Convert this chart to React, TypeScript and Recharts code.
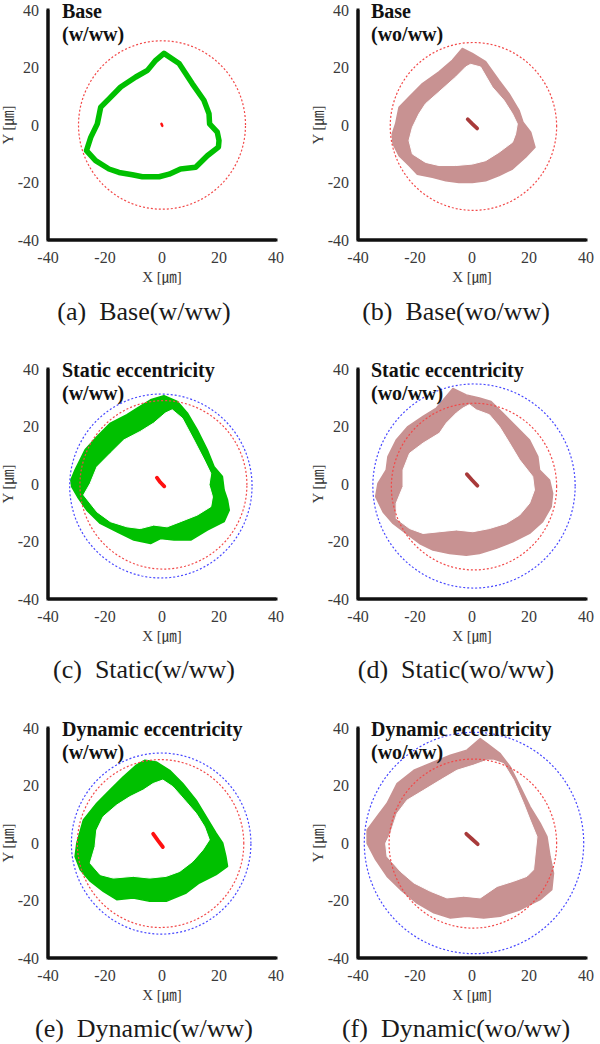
import React from 'react';
import { ScatterChart, Scatter, XAxis, YAxis, Label } from 'recharts';

type Pt = [number, number];

const axisTicks = [-40, -20, 0, 20, 40];
// L-shaped axis frame (y axis at x=-40, x axis at y=-40)
const axisFrame: Pt[] = [[-40, 40], [-40, -40], [40, -40]];

// (a) Base (w/ww): thin orbit
const baseWLoop: Pt[] = [
  [0.7, 24.9], [6.0, 21.4], [10.6, 14.4], [14.7, 8.6], [16.5, 3.9], [16.7, 0.4], [19.4, -2.5],
  [20.0, -5.4], [19.8, -7.7], [15.9, -10.7], [11.8, -14.7], [6.5, -15.3], [2.5, -17.1],
  [-1.0, -18.0], [-6.9, -18.0], [-10.4, -17.3], [-15.1, -16.5], [-18.6, -15.3], [-23.3, -12.4],
  [-26.5, -8.9], [-25.0, -4.3], [-22.7, 0.4], [-21.5, 6.2], [-18.6, 9.1], [-14.5, 13.2],
  [-9.2, 16.7], [-5.1, 19.0], [-2.2, 22.5],
];
const baseWCenter: Pt[] = [[-0.2, 0.4], [0.1, -0.3]];

// (b) Base (wo/ww)
const baseWoOuter: Pt[] = [
  [-3.4, 26.6], [0.1, 24.9], [4.8, 22.0], [9.5, 15.5], [13.0, 10.9], [16.5, 5.1], [17.9, 1.0],
  [20.6, -2.5], [22.1, -7.7], [18.8, -11.2], [14.2, -15.3], [9.5, -17.6], [4.8, -19.4],
  [0.1, -20.0], [-4.6, -20.0], [-9.2, -19.4], [-13.9, -18.2], [-19.2, -17.1], [-22.1, -14.1],
  [-25.6, -10.7], [-27.7, -6.6], [-28.0, -3.1], [-26.8, 0.4], [-25.6, 6.2], [-22.1, 9.7],
  [-17.4, 14.4], [-11.6, 18.5], [-6.9, 22.5],
];
const baseWoInner: Pt[] = [
  [-0.5, 21.1], [3.0, 20.2], [7.1, 13.2], [11.2, 8.6], [14.2, 3.9], [15.9, 0.4], [15.3, -3.1],
  [14.2, -6.0], [9.5, -9.5], [4.8, -12.4], [0.1, -13.6], [-5.7, -14.1], [-11.6, -14.1],
  [-16.3, -13.0], [-20.9, -10.1], [-22.1, -5.4], [-20.9, -0.8], [-18.6, 3.9], [-16.3, 7.4],
  [-11.6, 11.5], [-5.7, 16.7], [-2.2, 20.2],
];
const baseWoCenter: Pt[] = [[-1.5, 2.0], [0.2, 0.3], [1.8, -1.2]];

// (c) Static eccentricity (w/ww)
const staticWOuter: Pt[] = [
  [0.7, 30.7], [5.4, 28.7], [8.9, 24.7], [12.4, 18.8], [15.9, 11.9], [18.3, 6.0], [21.2, 2.6],
  [21.8, -2.1], [23.0, -5.6], [23.6, -9.1], [21.8, -13.1], [15.9, -16.0], [10.1, -19.5],
  [4.2, -19.5], [-0.5, -19.0], [-4.0, -20.7], [-9.9, -19.5], [-15.8, -16.6], [-21.7, -13.7],
  [-26.4, -9.1], [-29.3, -5.0], [-31.7, -0.9], [-32.0, 1.4], [-30.5, 4.9], [-27.0, 11.9],
  [-22.8, 16.5], [-18.1, 21.2], [-12.3, 24.1], [-8.7, 26.4], [-4.0, 29.3],
];
const staticWInner: Pt[] = [
  [3.6, 25.8], [7.1, 22.9], [11.2, 15.3], [14.8, 8.4], [17.1, 3.7], [16.5, -0.3], [17.7, -4.4],
  [17.1, -7.9], [12.4, -10.8], [6.5, -13.1], [1.8, -14.9], [-2.9, -14.3], [-7.6, -15.5],
  [-12.3, -14.9], [-18.1, -13.1], [-22.8, -9.7], [-27.5, -3.8], [-25.2, 0.2], [-22.8, 6.0],
  [-18.1, 10.7], [-13.4, 15.3], [-7.6, 18.3], [-2.9, 21.2], [1.2, 24.7],
];
const staticWCenter: Pt[] = [[-1.8, 2.2], [-0.6, 0.6], [0.8, -0.8]];

// (d) Static eccentricity (wo/ww)
const staticWoOuter: Pt[] = [
  [-6.7, 33.2], [-2.0, 31.0], [2.6, 29.9], [6.7, 28.7], [10.8, 24.7], [15.5, 20.0], [20.2, 15.3],
  [23.1, 9.5], [23.7, 4.9], [27.2, 1.4], [28.3, -3.3], [27.8, -7.9], [24.8, -13.1], [20.2, -17.2],
  [14.3, -20.1], [8.5, -22.4], [2.6, -24.2], [-2.0, -24.8], [-7.9, -24.2], [-13.7, -23.0],
  [-18.4, -20.7], [-23.1, -17.2], [-27.7, -13.7], [-31.2, -9.7], [-33.8, -4.4], [-33.0, 0.2],
  [-30.1, 4.9], [-29.5, 9.5], [-26.6, 15.3], [-22.5, 20.0], [-17.2, 23.5], [-12.5, 26.4],
  [-9.0, 30.5],
];
const staticWoInner: Pt[] = [
  [-0.9, 27.6], [1.5, 25.8], [6.1, 24.1], [9.6, 20.0], [13.2, 14.2], [16.7, 8.4], [21.3, 2.6],
  [21.9, -2.1], [20.2, -6.7], [16.7, -10.8], [12.0, -13.7], [6.1, -15.5], [0.3, -16.6],
  [-5.5, -16.0], [-11.4, -16.6], [-17.2, -17.2], [-21.9, -15.5], [-26.6, -12.0], [-26.6, -6.7],
  [-24.2, -0.9], [-24.2, 4.9], [-21.9, 10.7], [-17.2, 14.2], [-11.4, 17.7], [-9.0, 21.2],
  [-5.5, 24.7], [-3.2, 26.4],
];
const staticWoCenter: Pt[] = [[-1.8, 3.4], [0.0, 1.4], [1.9, -0.6]];

// (e) Dynamic eccentricity (w/ww)
const dynamicWOuter: Pt[] = [
  [-6.0, 28.8], [-2.0, 28.2], [2.7, 25.3], [7.3, 20.7], [12.0, 14.9], [15.5, 9.2], [19.0, 3.4],
  [21.3, 0.0], [22.4, -4.6], [23.0, -8.1], [19.0, -11.0], [13.1, -13.9], [8.5, -17.4],
  [1.5, -20.3], [-4.3, -20.3], [-10.1, -19.1], [-15.9, -19.7], [-20.6, -16.8], [-25.2, -13.3],
  [-28.7, -9.3], [-30.5, -4.7], [-29.9, -0.1], [-27.6, 8.0], [-22.9, 13.8], [-18.3, 18.4],
  [-13.6, 23.0], [-9.0, 27.1],
];
const dynamicWInner: Pt[] = [
  [0.3, 21.9], [3.8, 19.6], [7.9, 15.0], [12.0, 10.3], [14.9, 5.7], [16.6, 1.1], [14.3, -2.4],
  [10.8, -6.4], [6.2, -9.9], [1.5, -11.6], [-4.3, -12.2], [-10.1, -11.6], [-17.1, -12.2],
  [-21.7, -11.0], [-25.2, -7.0], [-23.5, -1.3], [-22.9, 4.5], [-20.6, 9.2], [-15.9, 13.2],
  [-11.3, 16.1], [-6.6, 18.4], [-3.1, 20.7],
];
const dynamicWCenter: Pt[] = [[-3.1, 3.2], [-1.4, 0.8], [0.3, -1.4]];

// (f) Dynamic eccentricity (wo/ww)
const dynamicWoOuter: Pt[] = [
  [2.9, 36.3], [5.3, 34.6], [9.9, 31.1], [13.4, 26.5], [16.9, 19.6], [20.4, 12.6], [23.9, 6.9],
  [26.3, 2.2], [27.4, -4.7], [28.6, -10.5], [28.0, -16.2], [23.9, -19.7], [16.9, -23.2],
  [9.9, -25.5], [4.1, -26.1], [-1.8, -25.5], [-7.6, -26.1], [-13.4, -24.3], [-19.3, -20.9],
  [-25.1, -16.2], [-29.8, -11.6], [-33.8, -5.8], [-36.8, -0.1], [-36.8, 4.5], [-33.3, 9.2],
  [-29.8, 13.8], [-26.3, 20.7], [-20.4, 25.3], [-13.4, 28.2], [-7.6, 30.5], [-1.8, 32.3],
];
const dynamicWoInner: Pt[] = [
  [7.6, 28.8], [11.1, 27.6], [14.6, 21.9], [18.1, 13.8], [20.4, 8.0], [22.8, 2.2], [22.2, -3.5],
  [21.6, -9.3], [19.3, -11.6], [14.6, -13.3], [8.8, -15.1], [2.9, -19.1], [-2.9, -18.5],
  [-8.8, -19.1], [-14.6, -16.8], [-20.4, -13.9], [-25.1, -9.9], [-29.8, -4.7], [-30.3, -0.1],
  [-28.6, 3.4], [-26.3, 10.3], [-22.8, 14.9], [-16.9, 18.4], [-11.1, 21.9], [-5.3, 25.3],
  [0.6, 27.1], [5.3, 28.8],
];
const dynamicWoCenter: Pt[] = [[-2.0, 3.2], [0.0, 1.4], [2.0, -0.4]];

// clearance circles [cx, cy, r] per panel (a..f)
const redCircles: [number, number, number][] = [
  [0, 0, 29.3], [0.5, -0.5, 29.2], [0.5, -0.3, 29.3], [0.7, -0.9, 29.0], [-0.5, -0.2, 29.2], [0.3, -0.2, 29.4],
];
const blueCircles: ([number, number, number] | null)[] = [
  null, null, [-0.4, -0.7, 32.0], [0.7, -0.7, 35.5], [-0.3, -0.2, 31.5], [0.7, 0, 38.5],
];

const titles = [
  ['Base', '(w/ww)'],
  ['Base', '(wo/ww)'],
  ['Static eccentricity', '(w/ww)'],
  ['Static eccentricity', '(wo/ww)'],
  ['Dynamic eccentricity', '(w/ww)'],
  ['Dynamic eccentricity', '(wo/ww)'],
];
const captions = [
  '(a)  Base(w/ww)',
  '(b)  Base(wo/ww)',
  '(c)  Static(w/ww)',
  '(d)  Static(wo/ww)',
  '(e)  Dynamic(w/ww)',
  '(f)  Dynamic(wo/ww)',
];

const GREEN = '#00c000';
const ROSE = '#c89292';
const RED_C = '#ff1010';
const BROWN_C = '#a83a3a';
const AXIS = '#101010';
const RED_CIRCLE = '#f24848';
const BLUE_CIRCLE = '#4848ff';

const toData = (pts: Pt[]) => pts.map(([x, y]) => ({ x, y }));
const circleData = (c: [number, number, number]) => {
  const out: { x: number; y: number }[] = [];
  for (let a = 0; a < 360; a += 3) {
    const t = (a * Math.PI) / 180;
    out.push({ x: c[0] + c[2] * Math.cos(t), y: c[1] + c[2] * Math.sin(t) });
  }
  return out;
};

const NoShape = () => <g />;

type PanelDef = {
  loop?: Pt[];
  outer?: Pt[];
  inner?: Pt[];
  center: Pt[];
  color: string;
  centerColor: string;
};

const panels: PanelDef[] = [
  { loop: baseWLoop, center: baseWCenter, color: GREEN, centerColor: RED_C },
  { outer: baseWoOuter, inner: baseWoInner, center: baseWoCenter, color: ROSE, centerColor: BROWN_C },
  { outer: staticWOuter, inner: staticWInner, center: staticWCenter, color: GREEN, centerColor: RED_C },
  { outer: staticWoOuter, inner: staticWoInner, center: staticWoCenter, color: ROSE, centerColor: BROWN_C },
  { outer: dynamicWOuter, inner: dynamicWInner, center: dynamicWCenter, color: GREEN, centerColor: RED_C },
  { outer: dynamicWoOuter, inner: dynamicWoInner, center: dynamicWoCenter, color: ROSE, centerColor: BROWN_C },
];

const FONT = '"Liberation Serif", "Times New Roman", "Noto Sans CJK KR", serif';
const tickStyle = { fontFamily: FONT, fontSize: 16, fill: '#3a3a3a' };

const chartLefts = [0, 310];
const chartTops = [0, 359, 718];

function Panel({ idx }: { idx: number }) {
  const p = panels[idx];
  const red = redCircles[idx];
  const blue = blueCircles[idx];
  return (
    <ScatterChart width={300} height={285} margin={{ top: 10, right: 24, bottom: 0, left: 0 }}>
      <XAxis
        type="number"
        dataKey="x"
        domain={[-40, 40]}
        ticks={axisTicks}
        axisLine={{ stroke: AXIS, strokeWidth: 3 }}
        tickLine={false}
        tickSize={0}
        tickMargin={12}
        height={45}
        tick={tickStyle}
      >
        <Label value="X [㎛]" position="insideBottom" offset={3} style={{ fontFamily: FONT, fontSize: 15, fill: '#3a3a3a' }} />
      </XAxis>
      <YAxis
        type="number"
        dataKey="y"
        domain={[-40, 40]}
        ticks={axisTicks}
        axisLine={{ stroke: AXIS, strokeWidth: 3 }}
        tickLine={false}
        tickSize={0}
        tickMargin={9}
        width={48}
        tick={tickStyle}
      >
        <Label
          value="Y [㎛]"
          angle={-90}
          position="insideLeft"
          offset={8}
          style={{ fontFamily: FONT, fontSize: 15, fill: '#3a3a3a', textAnchor: 'middle' }}
        />
      </YAxis>
      {p.loop && (
        <Scatter
          data={toData(p.loop)}
          shape={NoShape}
          line={{ stroke: p.color, strokeWidth: 5.5, strokeLinejoin: 'round' }}
          lineJointType="linearClosed"
          fill={p.color}
          isAnimationActive={false}
          legendType="none"
        />
      )}
      {p.outer && (
        <Scatter
          data={toData(p.outer)}
          shape={NoShape}
          line={{ stroke: p.color, fill: p.color, strokeWidth: 1.5, strokeLinejoin: 'round' }}
          lineJointType="linearClosed"
          fill={p.color}
          isAnimationActive={false}
          legendType="none"
        />
      )}
      {p.inner && (
        <Scatter
          data={toData(p.inner)}
          shape={NoShape}
          line={{ stroke: '#ffffff', fill: '#ffffff', strokeWidth: 1, strokeLinejoin: 'round' }}
          lineJointType="linearClosed"
          fill="#ffffff"
          isAnimationActive={false}
          legendType="none"
        />
      )}
      <Scatter
        data={circleData(red)}
        shape={NoShape}
        line={{ stroke: RED_CIRCLE, strokeWidth: 1.2, strokeDasharray: '2 2' }}
        lineJointType="linearClosed"
        fill={RED_CIRCLE}
        isAnimationActive={false}
        legendType="none"
      />
      {blue && (
        <Scatter
          data={circleData(blue)}
          shape={NoShape}
          line={{ stroke: BLUE_CIRCLE, strokeWidth: 1.2, strokeDasharray: '2 2' }}
          lineJointType="linearClosed"
          fill={BLUE_CIRCLE}
          isAnimationActive={false}
          legendType="none"
        />
      )}
      <Scatter
        data={toData(p.center)}
        shape={NoShape}
        line={{ stroke: p.centerColor, strokeWidth: idx === 0 ? 2.5 : 3.8, strokeLinecap: 'round', strokeLinejoin: 'round' }}
        lineJointType="linear"
        fill={p.centerColor}
        isAnimationActive={false}
        legendType="none"
      />
      <Scatter
        data={toData(axisFrame)}
        shape={NoShape}
        line={{ stroke: AXIS, strokeWidth: 3, strokeLinecap: 'square' }}
        lineJointType="linear"
        fill={AXIS}
        isAnimationActive={false}
        legendType="none"
      />
    </ScatterChart>
  );
}

export default function App() {
  const titleX = [62, 371];
  const titleY = [18, 377, 736];
  const capX = [144, 456];
  const capY = [320, 678, 1037];
  return (
    <div style={{ position: 'absolute', left: 0, top: 0, width: 600, height: 1044, background: '#fff', overflow: 'hidden' }}>
      {[0, 1, 2, 3, 4, 5].map((i) => (
        <div key={i} style={{ position: 'absolute', left: chartLefts[i % 2], top: chartTops[Math.floor(i / 2)] }}>
          <Panel idx={i} />
        </div>
      ))}
      <svg width={600} height={1044} style={{ position: 'absolute', left: 0, top: 0, pointerEvents: 'none' }}>
        {titles.map((t, i) => (
          <g key={'t' + i} style={{ fontFamily: FONT, fontSize: 20, fontWeight: 700, fill: '#111' }}>
            <text x={titleX[i % 2]} y={titleY[Math.floor(i / 2)]}>{t[0]}</text>
            <text x={titleX[i % 2]} y={titleY[Math.floor(i / 2)] + 23}>{t[1]}</text>
          </g>
        ))}
        {captions.map((c, i) => (
          <text
            key={'c' + i}
            x={capX[i % 2]}
            y={capY[Math.floor(i / 2)]}
            textAnchor="middle"
            style={{ fontFamily: FONT, fontSize: 26, fill: '#1a1a1a', whiteSpace: 'pre' }}
          >
            {c}
          </text>
        ))}
      </svg>
    </div>
  );
}
